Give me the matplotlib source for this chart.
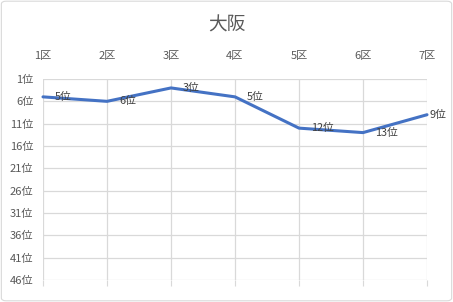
import matplotlib.pyplot as plt
from matplotlib.patches import FancyBboxPatch

plt.rcParams['font.family'] = ['Noto Sans CJK JP', 'DejaVu Sans']

districts = ['1区', '2区', '3区', '4区', '5区', '6区', '7区']
ranks = [5, 6, 3, 5, 12, 13, 9]
rank_ticks = list(range(1, 47, 5))
label_offsets = [8.6, 8.6, 8.6, 8.6, 8.6, 8.6, 1.5]

fig = plt.figure(figsize=(4.53, 3.02), dpi=100)
fig.patches.append(FancyBboxPatch((0.003, 0.004), 0.994, 0.992, boxstyle='round,pad=0,rounding_size=0.01',
                                  transform=fig.transFigure, facecolor='none', edgecolor='#D9D9D9',
                                  lw=0.8, zorder=-1))
ax = fig.add_axes([43 / 453, 1 - 280 / 302, 384 / 453, 201 / 302])
ax.set_facecolor('none')

x = list(range(len(districts)))
ax.plot(x, ranks, color='#4472C4', lw=2.2, solid_capstyle='round', zorder=3, clip_on=False)
for xi, r, off in zip(x, ranks, label_offsets):
    ax.annotate(f'{r}位', (xi, r), xytext=(off, 0), textcoords='offset points',
                ha='left', va='center', fontsize=7.8, color='#404040', zorder=4)

ax.set_xlim(0, len(districts) - 1)
ax.set_ylim(46, 1)
ax.set_xticks(x)
ax.set_xticklabels(districts)
ax.set_yticks(rank_ticks)
ax.set_yticklabels([f'{t}位' for t in rank_ticks])

ax.tick_params(axis='x', top=False, labeltop=True, bottom=True, labelbottom=False,
               length=4, color='#D9D9D9', labelcolor='#595959', labelsize=8)
ax.xaxis.set_tick_params(which='major', pad=9)
ax.tick_params(axis='y', length=0, labelcolor='#595959', labelsize=8, pad=7)

ax.grid(True, color='#D9D9D9', lw=0.9)
for s in ax.spines.values():
    s.set_visible(False)

fig.text(0.5, 1 - 25 / 302, '大阪', ha='center', va='center', fontsize=13.5, color='#595959')

fig.savefig('out.png', dpi=100)
